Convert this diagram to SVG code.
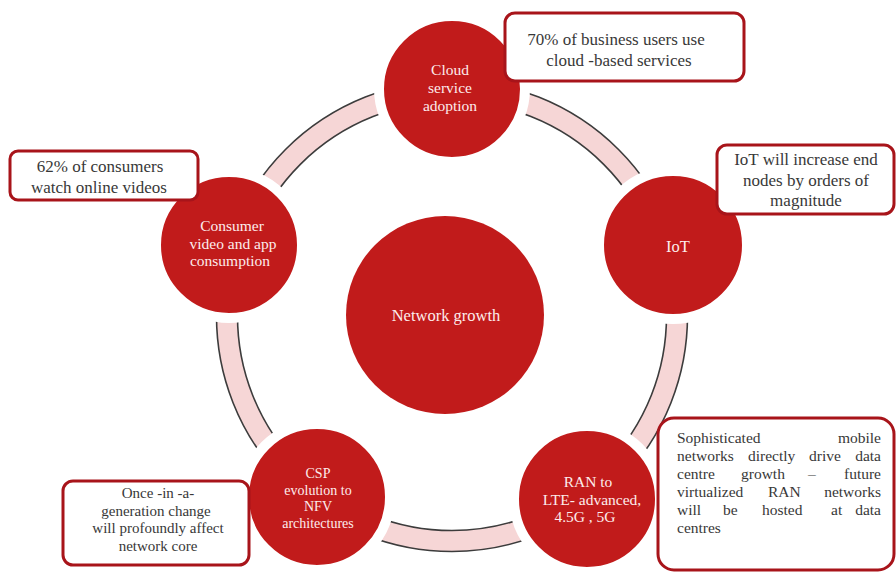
<svg xmlns="http://www.w3.org/2000/svg" width="896" height="573" viewBox="0 0 896 573">
  <style>
    .node { fill: #c11b1b; stroke: #ffffff; stroke-width: 10; }
    .hub { fill: #c11b1b; }
    .ntext { font-family: "Liberation Serif", "Times New Roman", serif; font-size: 15.5px; fill: #fdecec; text-anchor: middle; }
    .small { font-size: 14px; }
    .big { font-size: 16.5px; }
    .box { fill: #ffffff; stroke: #a8141a; stroke-width: 3; }
    .btext { font-family: "Liberation Serif", "Times New Roman", serif; font-size: 17px; fill: #383838; text-anchor: middle; }
    .tight { font-size: 15px; }
    .jtext { font-family: "Liberation Serif", "Times New Roman", serif; font-size: 15.5px; fill: #383838; }
    .band { fill: none; stroke: #f6d6d6; stroke-width: 21; }
    .edge { fill: none; stroke: #3c3c3c; stroke-width: 1.6; }
  </style>

  <rect x="0" y="0" width="896" height="573" fill="#ffffff"/>

  <!-- connectors: the ring linking the outer nodes -->
  <g id="connectors">
    <circle class="band" cx="452" cy="316" r="225"/>
    <circle class="edge" cx="452" cy="316" r="235.5"/>
    <circle class="edge" cx="452" cy="316" r="214.5"/>
  </g>

  <!-- central node -->
  <g id="network-growth">
    <circle class="hub" cx="445" cy="315" r="99"/>
    <text class="ntext big" x="446" y="321">Network growth</text>
  </g>

  <!-- outer nodes with their callouts -->
  <g id="cloud">
    <circle class="node" cx="452" cy="89" r="73"/>
    <text class="ntext" x="450" y="75">Cloud</text>
    <text class="ntext" x="450" y="93">service</text>
    <text class="ntext" x="450" y="111">adoption</text>
    <rect class="box" x="505" y="13" width="239" height="68" rx="10"/>
    <text class="btext" x="616" y="45">70% of business users use</text>
    <text class="btext" x="619" y="66">cloud -based services</text>
  </g>

  <g id="iot">
    <circle class="node" cx="673" cy="245" r="74"/>
    <text class="ntext big" x="678" y="252">IoT</text>
    <rect class="box" x="717" y="145" width="177" height="69" rx="10"/>
    <text class="btext" x="806" y="165">IoT will increase end</text>
    <text class="btext" x="806" y="186">nodes by orders of</text>
    <text class="btext" x="806" y="206">magnitude</text>
  </g>

  <g id="ran">
    <circle class="node" cx="587" cy="499" r="73"/>
    <text class="ntext" x="588" y="487">RAN to</text>
    <text class="ntext" x="592" y="504.5">LTE- advanced,</text>
    <text class="ntext" x="585" y="522">4.5G , 5G</text>
    <rect class="box" x="658" y="418" width="236" height="152" rx="16"/>
    <!-- justified paragraph, word by word -->
    <text class="jtext" x="677" y="443">Sophisticated</text>
    <text class="jtext" x="881" y="443" text-anchor="end">mobile</text>
    <text class="jtext" x="677" y="461">networks</text>
    <text class="jtext" x="748" y="461">directly</text>
    <text class="jtext" x="809" y="461">drive</text>
    <text class="jtext" x="881" y="461" text-anchor="end">data</text>
    <text class="jtext" x="677" y="479">centre</text>
    <text class="jtext" x="741" y="479">growth</text>
    <text class="jtext" x="808" y="479">–</text>
    <text class="jtext" x="881" y="479" text-anchor="end">future</text>
    <text class="jtext" x="677" y="497">virtualized</text>
    <text class="jtext" x="768" y="497">RAN</text>
    <text class="jtext" x="881" y="497" text-anchor="end">networks</text>
    <text class="jtext" x="677" y="515">will</text>
    <text class="jtext" x="723" y="515">be</text>
    <text class="jtext" x="762" y="515">hosted</text>
    <text class="jtext" x="831" y="515">at</text>
    <text class="jtext" x="881" y="515" text-anchor="end">data</text>
    <text class="jtext" x="677" y="533">centres</text>
  </g>

  <g id="csp">
    <circle class="node" cx="317" cy="497" r="73"/>
    <text class="ntext small" x="318" y="478">CSP</text>
    <text class="ntext small" x="318" y="494.5">evolution to</text>
    <text class="ntext small" x="318" y="511">NFV</text>
    <text class="ntext small" x="318" y="527.5">architectures</text>
    <rect class="box" x="63" y="481" width="186" height="84" rx="10"/>
    <text class="btext tight" x="158" y="498">Once -in -a-</text>
    <text class="btext tight" x="156" y="515.5">generation change</text>
    <text class="btext tight" x="158" y="533">will profoundly affect</text>
    <text class="btext tight" x="158" y="550.5">network core</text>
  </g>

  <g id="consumer">
    <circle class="node" cx="229" cy="245" r="73"/>
    <text class="ntext" x="232" y="231">Consumer</text>
    <text class="ntext" x="233" y="248.5">video and app</text>
    <text class="ntext" x="230" y="266">consumption</text>
    <rect class="box" x="10" y="151" width="188" height="49" rx="8"/>
    <text class="btext" x="100" y="172">62% of consumers</text>
    <text class="btext" x="99" y="193">watch online videos</text>
  </g>
</svg>
